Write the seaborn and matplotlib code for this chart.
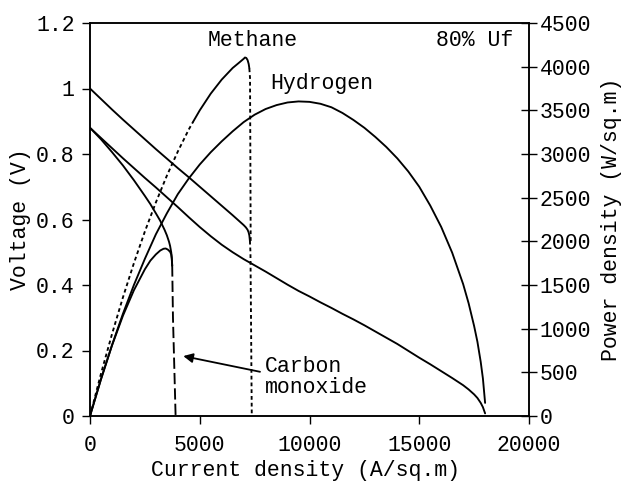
import matplotlib
matplotlib.use("Agg")
import matplotlib.pyplot as plt
import pandas as pd
import seaborn as sns

# ---- Hydrogen fuel: cell voltage and power density vs current density ----
h2_current = [0, 500, 1000, 1500, 2000, 2500, 3000, 3500, 4000, 4500, 5000,
              5500, 6000, 6500, 7000, 7500, 8000, 8500, 9000, 9500, 10000,
              10500, 11000, 11500, 12000, 12500, 13000, 13500, 14000, 14500,
              15000, 15500, 16000, 16500, 17000, 17250, 17500, 17650, 17800,
              17900, 18000]
h2_voltage = [0.880, 0.849, 0.818, 0.787, 0.757, 0.727, 0.698, 0.668, 0.638,
              0.607, 0.577, 0.549, 0.523, 0.500, 0.479, 0.460, 0.441, 0.421,
              0.401, 0.382, 0.365, 0.347, 0.330, 0.312, 0.295, 0.277, 0.258,
              0.239, 0.220, 0.199, 0.178, 0.158, 0.137, 0.116, 0.094, 0.081,
              0.066, 0.055, 0.040, 0.027, 0.008]
h2_power = [0, 420, 810, 1170, 1500, 1800, 2080, 2320, 2540, 2720, 2880,
            3020, 3145, 3260, 3365, 3450, 3515, 3560, 3590, 3602, 3597, 3575,
            3535, 3470, 3390, 3300, 3195, 3080, 2950, 2800, 2625, 2410, 2165,
            1870, 1510, 1290, 1030, 850, 620, 430, 150]

# ---- Methane fuel ----
ch4_current = [0, 500, 1000, 1500, 2000, 2500, 3000, 3500, 4000, 4500, 5000,
               5500, 6000, 6500, 6750, 7000, 7100, 7175, 7225, 7260, 7285]
ch4_voltage = [1.000, 0.968, 0.936, 0.905, 0.875, 0.845, 0.815, 0.786, 0.757,
               0.729, 0.700, 0.671, 0.642, 0.613, 0.598, 0.583, 0.576, 0.569,
               0.561, 0.551, 0.535]
ch4_p_current = [0, 500, 1000, 1500, 2000, 2500, 3000, 3500, 4000, 4500, 4700,
                 5000, 5500, 6000, 6500, 6750, 7000, 7060, 7120, 7180, 7230, 7260]
ch4_power = [0, 484, 936, 1358, 1750, 2113, 2445, 2751, 3028, 3281, 3370,
             3500, 3691, 3852, 3985, 4037, 4090, 4105, 4100, 4075, 4030, 3980]
# fuel-utilisation limit: collapse of the methane curves
ch4_drop_current = [7285, 7310, 7335, 7370]
ch4_drop_voltage = [0.535, 0.500, 0.300, 0.000]
ch4_pdrop_current = [7260, 7290, 7305, 7320]
ch4_pdrop_power = [3980, 3870, 3000, 2000]
ch4_solid_from = 10  # index where the dotted power trace turns solid

# ---- Carbon monoxide fuel ----
co_current = [0, 500, 1000, 1500, 2000, 2500, 2750, 3000, 3200, 3400, 3500,
              3600, 3650, 3700, 3725, 3745]
co_voltage = [0.880, 0.845, 0.806, 0.765, 0.720, 0.672, 0.647, 0.619, 0.596,
              0.568, 0.552, 0.532, 0.519, 0.500, 0.485, 0.460]
co_p_current = [0, 500, 1000, 1500, 2000, 2500, 2750, 3000, 3200, 3350, 3450,
                3550, 3650, 3700, 3725, 3745]
co_power = [0, 422, 806, 1148, 1440, 1680, 1779, 1850, 1895, 1915, 1918,
            1905, 1880, 1850, 1800, 1720]
co_drop_current = [3745, 3780, 3840, 3900]
co_drop_voltage = [0.460, 0.300, 0.150, 0.000]

x_ticks = [0, 5000, 10000, 15000, 20000]
v_ticks = [0, 0.2, 0.4, 0.6, 0.8, 1.0, 1.2]
v_tick_labels = ["0", "0.2", "0.4", "0.6", "0.8", "1", "1.2"]
p_ticks = [0, 500, 1000, 1500, 2000, 2500, 3000, 3500, 4000, 4500]

sns.set_style("white")
FONT = "Liberation Mono"
plt.rcParams["font.family"] = [FONT, "DejaVu Sans Mono"]
FS = 15.5
LW = 1.35
INK = "black"
DOT = (0, (2, 1.6))
DASH = (0, (6, 2.2))

fig = plt.figure(figsize=(6.21, 4.83), dpi=100)
ax = fig.add_axes([90 / 621, 1 - 416 / 483, 439 / 621, 393 / 483])
ax2 = ax.twinx()


def trace(axis, x, y, **kw):
    df = pd.DataFrame({"x": x, "y": y})
    sns.lineplot(data=df, x="x", y="y", ax=axis, sort=False, estimator=None,
                 color=INK, lw=LW, legend=False, **kw)


# voltage curves (left axis)
trace(ax, h2_current, h2_voltage)
trace(ax, ch4_current, ch4_voltage)
trace(ax, ch4_drop_current, ch4_drop_voltage, linestyle=DOT)
trace(ax, co_current, co_voltage)
trace(ax, co_drop_current, co_drop_voltage, linestyle=DASH)

# power-density curves (right axis)
trace(ax2, h2_current, h2_power)
trace(ax2, co_p_current, co_power)
trace(ax2, ch4_p_current[:ch4_solid_from + 1], ch4_power[:ch4_solid_from + 1],
      linestyle=DOT)
trace(ax2, ch4_p_current[ch4_solid_from:], ch4_power[ch4_solid_from:])
trace(ax2, ch4_pdrop_current, ch4_pdrop_power, linestyle=DOT)

ax.set_xlim(0, 20000)
ax.set_ylim(0, 1.2)
ax2.set_ylim(0, 4500)
ax.set_xticks(x_ticks)
ax.set_xticklabels([str(t) for t in x_ticks])
ax.set_yticks(v_ticks)
ax.set_yticklabels(v_tick_labels)
ax2.set_yticks(p_ticks)
ax2.set_yticklabels([str(t) for t in p_ticks])

for a in (ax, ax2):
    for s in a.spines.values():
        s.set_color(INK)
        s.set_linewidth(1.1)
        s.set_visible(True)
    a.set_xlabel("")
    a.set_ylabel("")

ax.tick_params(axis="both", direction="out", length=6, width=1.0, colors=INK,
               labelsize=FS, pad=5)
ax.tick_params(axis="y", left=True)
ax.tick_params(axis="x", bottom=True, pad=8)
ax2.tick_params(axis="y", direction="inout", length=11, width=1.0, colors=INK,
                labelsize=FS, pad=2, right=True)
for lab in ax.get_xticklabels() + ax.get_yticklabels() + ax2.get_yticklabels():
    lab.set_family([FONT, "DejaVu Sans Mono"])

ax.set_xlabel("Current density (A/sq.m)", fontsize=FS, color=INK)
ax.set_ylabel("Voltage (V)", fontsize=FS, color=INK)
ax2.set_ylabel("Power density (W/sq.m)", fontsize=FS, color=INK)
ax.xaxis.set_label_coords(0.49, -0.112)
ax.yaxis.set_label_coords(-0.1336, 0.5)
ax2.yaxis.set_label_coords(1.163, 0.5)

ax.text(5376, 1.148, "Methane", fontsize=FS, color=INK, va="center", ha="left")
ax.text(8200, 1.014, "Hydrogen", fontsize=FS, color=INK, va="center", ha="left")
ax.text(15763, 1.148, "80% Uf", fontsize=FS, color=INK, va="center", ha="left")
ax.text(7973, 0.118, "Carbon\nmonoxide", fontsize=FS, color=INK, va="center",
        ha="left", linespacing=1.0)
ax.annotate("", xy=(4250, 0.183), xytext=(7745, 0.135),
            arrowprops=dict(arrowstyle="-|>", color=INK, lw=1.3,
                            mutation_scale=14, shrinkA=0, shrinkB=0))

fig.savefig("out.png", dpi=100)
